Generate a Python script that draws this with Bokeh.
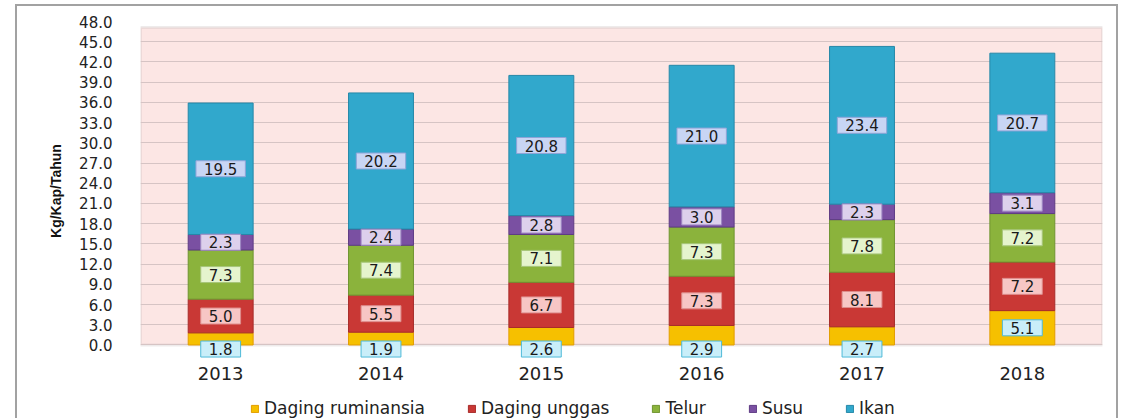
from bokeh.plotting import figure
from bokeh.layouts import column
from bokeh.models import (FactorRange, FixedTicker, NumeralTickFormatter, Legend, LegendItem,
                          Label, BoxAnnotation, ColumnDataSource)
from bokeh.embed import file_html
from bokeh.resources import INLINE

years = ["2013", "2014", "2015", "2016", "2017", "2018"]
series = ["Daging ruminansia", "Daging unggas", "Telur", "Susu", "Ikan"]
daging_ruminansia = [1.8, 1.9, 2.6, 2.9, 2.7, 5.1]
daging_unggas = [5.0, 5.5, 6.7, 7.3, 8.1, 7.2]
telur = [7.3, 7.4, 7.1, 7.3, 7.8, 7.2]
susu = [2.3, 2.4, 2.8, 3.0, 2.3, 3.1]
ikan = [19.5, 20.2, 20.8, 21.0, 23.4, 20.7]
y_ticks = [0, 3, 6, 9, 12, 15, 18, 21, 24, 27, 30, 33, 36, 39, 42, 45, 48]

values = [daging_ruminansia, daging_unggas, telur, susu, ikan]
bar_colors = ["#f6c000", "#c93835", "#8bb33c", "#7a50a2", "#31a8cc"]
bar_lines = ["#e29d00", "#a72c2a", "#6f9430", "#5e3b84", "#2588a8"]
lab_fill = ["#c9eef9", "#f7c6c5", "#e5f4cd", "#ddd0ec", "#c8d5f4"]
lab_line = ["#4fbad8", "#de8d8c", "#a6c579", "#9d86c2", "#8ea4d8"]

FONT = "DejaVu Sans"
FRAME = "#a2a2a2"

p = figure(x_range=FactorRange(*years, range_padding=0), y_range=(-2.3, 48),
           width=1103, height=391, output_backend="svg", toolbar_location=None,
           min_border_left=125, min_border_right=16, min_border_top=17, min_border_bottom=35)
p.background_fill_color = "white"
p.border_fill_alpha = 0
p.outline_line_color = None

# pink back wall of the chart
wall = BoxAnnotation(bottom=0, top=47.1, fill_color="#fce6e4", fill_alpha=1.0,
                     line_color="#c6bdbd", line_width=3, level="image")
p.add_layout(wall)

data = {"years": years}
for name, vals in zip(series, values):
    data[name] = vals
src = ColumnDataSource(data)

renderers = p.vbar_stack(series, x="years", width=0.405, source=src,
                         fill_color=bar_colors, line_color=bar_lines, line_width=1)

# grid
p.xgrid.grid_line_color = None
p.ygrid.grid_line_color = "#d6c4c4"
p.ygrid.grid_line_width = 1
p.ygrid.ticker = FixedTicker(ticks=y_ticks)
p.ygrid.level = "underlay"

# y axis
p.yaxis.ticker = FixedTicker(ticks=y_ticks)
p.yaxis.formatter = NumeralTickFormatter(format="0.0")
p.yaxis.major_tick_line_color = None
p.yaxis.minor_tick_line_color = None
p.yaxis.axis_line_color = None
p.yaxis.major_label_standoff = 22
p.yaxis.major_label_text_font = FONT
p.yaxis.major_label_text_font_size = "15px"
p.yaxis.major_label_text_color = "#222222"
p.yaxis.axis_label = "Kg/Kap/Tahun"
p.yaxis.axis_label_text_font = "Liberation Sans"
p.yaxis.axis_label_text_font_style = "bold"
p.yaxis.axis_label_text_font_size = "14px"
p.yaxis.axis_label_text_color = "#111111"
p.yaxis.axis_label_standoff = 12

# x axis
p.xaxis.major_tick_line_color = None
p.xaxis.minor_tick_line_color = None
p.xaxis.axis_line_color = None
p.xaxis.major_label_standoff = 0
p.xaxis.major_label_text_font = FONT
p.xaxis.major_label_text_font_size = "18px"
p.xaxis.major_label_text_color = "#222222"

# data labels (category i sits at synthetic coordinate i + 0.5)
for si, vals in enumerate(values):
    for i in range(len(years)):
        v = vals[i]
        base = sum(values[k][i] for k in range(si))
        ypos = base + v / 2.0
        if si == 0 and v < 3.0:
            ypos = -0.6
        p.add_layout(Label(x=i + 0.5, y=ypos, text=f"{v:.1f}", text_align="center",
                           text_baseline="middle", text_font=FONT, text_font_size="15px",
                           text_color="#1a1a1a",
                           background_fill_color=lab_fill[si], background_fill_alpha=1.0,
                           border_line_color=lab_line[si], border_line_width=1,
                           padding=(8, 2)))

# legend strip below the chart (its frame is aligned with the chart frame)
lg = figure(width=1103, height=23, x_range=(0, 1), y_range=(0, 1), output_backend="svg",
            toolbar_location=None, x_axis_type=None, y_axis_type=None,
            min_border_left=0, min_border_right=0, min_border_top=0, min_border_bottom=0)
lg.outline_line_color = None
lg.background_fill_alpha = 0
lg.border_fill_alpha = 0
lg.grid.visible = False
dummies = []
for name, c, lc in zip(series, bar_colors, bar_lines):
    r = lg.vbar(x=[0.5], top=[1], bottom=[0], width=0.5, fill_color=c, line_color=lc)
    r.visible = False
    dummies.append(r)

legend = Legend(items=[LegendItem(label=s, renderers=[r]) for s, r in zip(series, dummies)],
                orientation="horizontal", location=(110, 0),
                label_text_font=FONT, label_text_font_size="17px", label_text_color="#222222",
                glyph_width=9, glyph_height=9, label_standoff=5, spacing=42,
                padding=0, margin=0, border_line_color=None, background_fill_alpha=0,
                inactive_fill_alpha=0)
lg.add_layout(legend, "center")

layout = column(p, lg, spacing=0,
                styles={"margin-left": "15px", "margin-top": "4px",
                        "box-shadow": f"inset 2px 2px 0 0 {FRAME}, inset -2px 0 0 0 {FRAME}"})

open("out.html", "w").write(file_html(layout, INLINE))
